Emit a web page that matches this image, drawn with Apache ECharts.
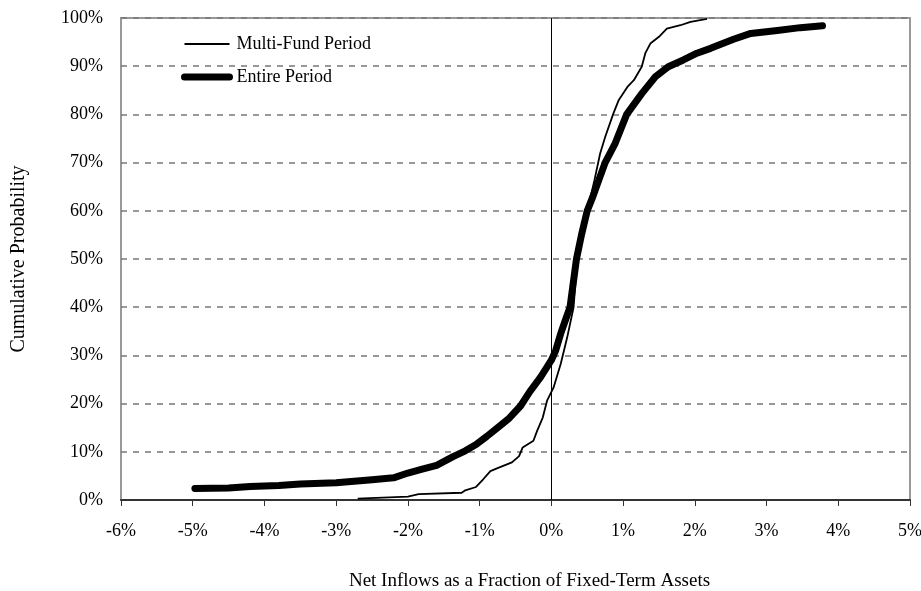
<!DOCTYPE html>
<html>
<head>
<meta charset="utf-8">
<script src="https://cdn.jsdelivr.net/npm/echarts@6/dist/echarts.min.js"></script>
<style>
  html, body { margin: 0; padding: 0; background: #fff; }
  #chart { width: 921px; height: 591px; }
</style>
</head>
<body>
<div id="chart"></div>
<script>
// 全期间 (粗线) — net inflow % and cumulative probability %
const entireX = [-4.97, -4.5, -4.2, -3.8, -3.5, -3.0, -2.5, -2.2, -2.0, -1.8, -1.6, -1.37, -1.2, -1.05, -0.9, -0.75, -0.6, -0.43, -0.3, -0.15, 0, 0.06, 0.13, 0.2, 0.26, 0.35, 0.42, 0.5, 0.58, 0.66, 0.75, 0.89, 1.05, 1.26, 1.45, 1.63, 1.84, 2.03, 2.22, 2.54, 2.78, 3.15, 3.47, 3.78];
const entireY = [2.4, 2.5, 2.8, 3.0, 3.3, 3.6, 4.2, 4.6, 5.6, 6.4, 7.2, 9.0, 10.2, 11.5, 13.2, 15.0, 16.8, 19.5, 22.5, 25.5, 29, 31, 34.5, 37.5, 40, 50, 55, 60, 63, 66.3, 70, 74, 80, 84.3, 87.8, 89.9, 91.3, 92.7, 93.7, 95.6, 96.8, 97.4, 98.0, 98.4];

// 多基金期间 (细线)
const multiX = [-2.7, -2.0, -1.85, -1.25, -1.2, -1.05, -0.95, -0.85, -0.75, -0.55, -0.45, -0.4, -0.25, -0.2, -0.12, -0.06, 0.03, 0.13, 0.22, 0.27, 0.31, 0.36, 0.43, 0.5, 0.6, 0.68, 0.75, 0.86, 0.94, 1.06, 1.15, 1.26, 1.31, 1.38, 1.5, 1.61, 1.8, 1.94, 2.17];
const multiY = [0.3, 0.7, 1.2, 1.5, 2.0, 2.7, 4.3, 6.0, 6.6, 7.8, 9.1, 10.9, 12.3, 14.3, 17.1, 20.6, 23.3, 28.2, 33.7, 37.2, 40, 50, 55, 60, 66.3, 71.9, 75.3, 80, 83, 85.7, 87.1, 89.9, 92.7, 94.7, 96.1, 97.8, 98.5, 99.2, 99.8];

const seriesNames = ['Multi-Fund Period', 'Entire Period'];

const font = 'Liberation Serif, Times New Roman, serif';

const pairs = (xs, ys) => xs.map((x, i) => [x, ys[i]]);

// 图例里不画圆点
const noSymbol = { color: 'rgba(0,0,0,0)', borderWidth: 0, opacity: 0 };

const chart = echarts.init(document.getElementById('chart'));
chart.setOption({
  animation: false,
  textStyle: { fontFamily: font, color: '#000' },
  grid: {
    left: 121, right: 11, top: 18, bottom: 91,
    outerBoundsMode: 'none', containLabel: false,
    show: true, borderColor: '#999', borderWidth: 2
  },
  legend: {
    orient: 'vertical',
    left: 181, top: 35, padding: 0,
    itemWidth: 45, itemHeight: 18, itemGap: 15,
    textStyle: { fontFamily: font, fontSize: 18, color: '#000', padding: [0, 0, 0, 2] },
    data: [
      { name: seriesNames[0], lineStyle: { width: 2 }, itemStyle: noSymbol },
      { name: seriesNames[1], lineStyle: { width: 7, cap: 'round' }, itemStyle: noSymbol }
    ]
  },
  xAxis: {
    type: 'value', min: -6, max: 5, interval: 1,
    name: 'Net Inflows as a Fraction of Fixed-Term Assets',
    nameLocation: 'middle', nameGap: 72,
    nameTextStyle: { fontFamily: font, fontSize: 19, color: '#000', padding: [0, 0, 0, 28] },
    axisLine: { onZero: false, lineStyle: { color: '#333', width: 2 } },
    axisTick: { show: true, length: 6, lineStyle: { color: '#333' } },
    axisLabel: { formatter: '{value}%', fontSize: 18, color: '#000', margin: 22 },
    splitLine: { show: false }
  },
  yAxis: {
    type: 'value', min: 0, max: 100, interval: 10,
    name: 'Cumulative Probability',
    nameLocation: 'middle', nameGap: 92,
    nameTextStyle: { fontFamily: font, fontSize: 20, color: '#000' },
    axisLine: { show: false },
    axisTick: { show: false },
    axisLabel: { formatter: '{value}%', fontSize: 18, color: '#000', margin: 18 },
    splitLine: { show: true, lineStyle: { color: '#777', type: [6, 6], width: 1.5 } }
  },
  series: [
    {
      name: seriesNames[0], type: 'line', symbol: 'none',
      lineStyle: { color: '#000', width: 1.8 },
      itemStyle: { color: '#000' },
      data: pairs(multiX, multiY),
      markLine: {
        silent: true, symbol: 'none', label: { show: false },
        lineStyle: { color: '#000', type: 'solid', width: 1 },
        data: [{ xAxis: 0 }]
      }
    },
    {
      name: seriesNames[1], type: 'line', symbol: 'none',
      lineStyle: { color: '#000', width: 7, cap: 'round', join: 'round' },
      itemStyle: { color: '#000' },
      data: pairs(entireX, entireY)
    }
  ]
});
</script>
</body>
</html>
